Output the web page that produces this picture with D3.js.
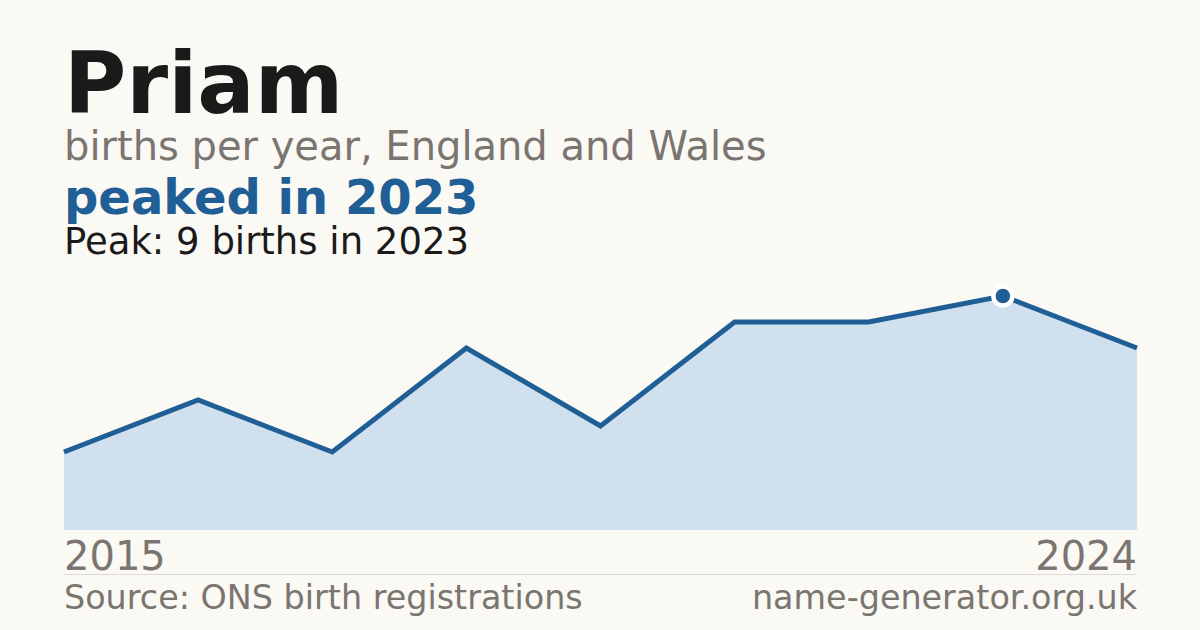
<!DOCTYPE html>
<html>
<head>
<meta charset="utf-8">
<script src="https://cdn.jsdelivr.net/npm/d3@7"></script>
<style>
  html, body { margin: 0; padding: 0; background: #faf9f4; }
  svg { display: block; font-family: "DejaVu Sans", sans-serif; }
</style>
</head>
<body>
<svg id="chart" width="1200" height="630"></svg>
<script>
// one year is missing in the source series (suppressed count)
const years = [2015, 2016, 2017, 2018, 2019, 2021, 2022, 2023, 2024];
const births = [3, 5, 3, 7, 4, 8, 8, 9, 7];
const xLabels = ["2015", "2024"];

const W = 1200, H = 630;
const plotLeft = 64, plotRight = 1137, plotTop = 296, plotBottom = 530;

const svg = d3.select('#chart');
svg.append('rect').attr('width', W).attr('height', H).attr('fill', '#faf9f4');

const peakIdx = d3.maxIndex(births);
const peakYear = years[peakIdx];

// header texts
svg.append('text').attr('x', 64).attr('y', 113)
    .attr('font-size', 85).attr('font-weight', 'bold').attr('fill', '#1a1a1a')
    .text('Priam');
svg.append('text').attr('x', 64).attr('y', 160)
    .attr('font-size', 40).attr('fill', '#7a7570')
    .text('births per year, England and Wales');
svg.append('text').attr('x', 64).attr('y', 214)
    .attr('font-size', 48).attr('font-weight', 'bold').attr('fill', '#1f5f96')
    .text('peaked in ' + peakYear);
svg.append('text').attr('x', 64).attr('y', 254)
    .attr('font-size', 37).attr('fill', '#1a1a1a')
    .text('Peak: ' + births[peakIdx] + ' births in ' + peakYear);

// scales: points are evenly spaced by index
const x = d3.scaleLinear().domain([0, years.length - 1]).range([plotLeft, plotRight]);
const y = d3.scaleLinear().domain([0, d3.max(births)]).range([plotBottom, plotTop]);

const area = d3.area()
    .x((d, i) => x(i))
    .y0(plotBottom)
    .y1(d => y(d));
const line = d3.line()
    .x((d, i) => x(i))
    .y(d => y(d));

svg.append('path').datum(births)
    .attr('d', area)
    .attr('fill', '#d0e0ef');

svg.append('path').datum(births)
    .attr('d', line)
    .attr('fill', 'none')
    .attr('stroke', '#1f5f96')
    .attr('stroke-width', 5)
    .attr('stroke-linejoin', 'miter');

svg.append('circle')
    .attr('cx', x(peakIdx)).attr('cy', y(births[peakIdx]))
    .attr('r', 9.5)
    .attr('fill', '#1f5f96')
    .attr('stroke', '#ffffff')
    .attr('stroke-width', 4.5);

// x labels
svg.append('text').attr('x', plotLeft).attr('y', 570)
    .attr('font-size', 40).attr('fill', '#7a7570')
    .text(xLabels[0]);
svg.append('text').attr('x', plotRight).attr('y', 570)
    .attr('font-size', 40).attr('fill', '#7a7570').attr('text-anchor', 'end')
    .text(xLabels[1]);

// divider + footer
svg.append('line')
    .attr('x1', plotLeft).attr('x2', plotRight).attr('y1', 574.5).attr('y2', 574.5)
    .attr('stroke', '#dcdad3').attr('stroke-width', 1);
svg.append('text').attr('x', plotLeft).attr('y', 609)
    .attr('font-size', 33.4).attr('fill', '#7a7570')
    .text('Source: ONS birth registrations');
svg.append('text').attr('x', plotRight).attr('y', 609)
    .attr('font-size', 33.4).attr('fill', '#7a7570').attr('text-anchor', 'end')
    .text('name-generator.org.uk');
</script>
</body>
</html>
